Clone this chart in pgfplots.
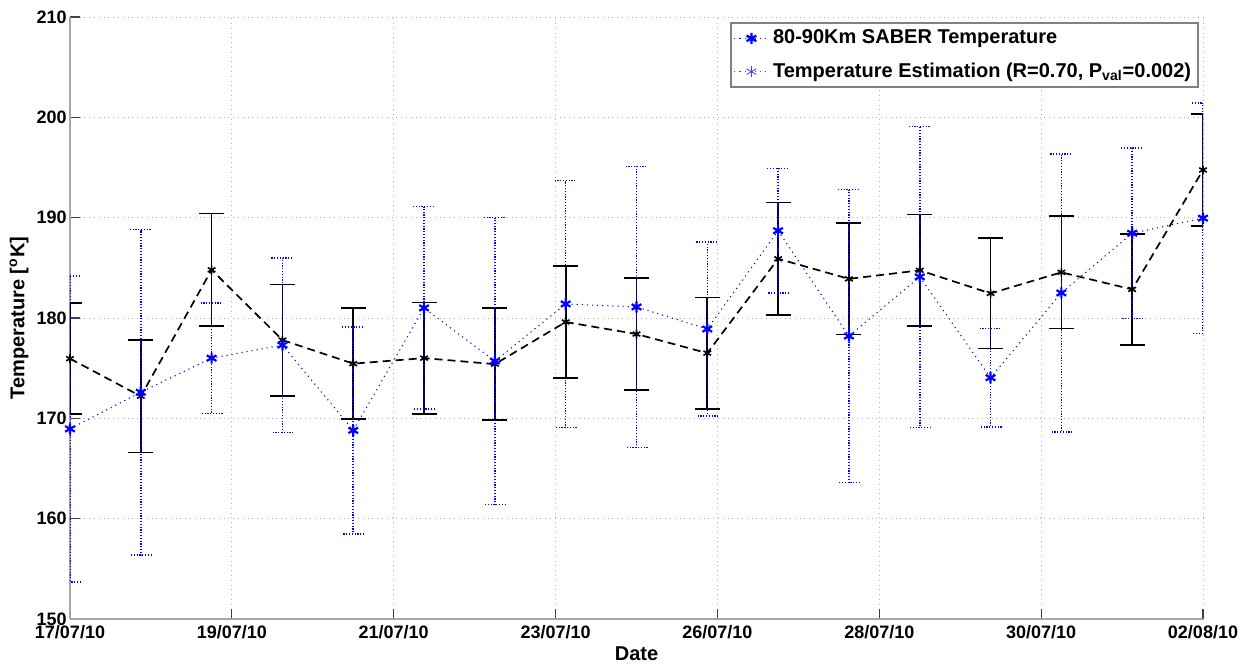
\documentclass[border=0pt]{standalone}
\usepackage{fontspec}
\setmainfont{Liberation Sans}
\usepackage{pgfplots}
\pgfplotsset{compat=1.18}
\usepackage{pgfplotstable}

% black dashed series (value, symmetric error)
\pgfplotstableread{
x y e
0 175.95 5.55
1 172.2 5.6
2 184.8 5.6
3 177.8 5.55
4 175.45 5.55
5 176.0 5.55
6 175.4 5.6
7 179.6 5.55
8 178.4 5.6
9 176.5 5.55
10 185.9 5.6
11 183.9 5.55
12 184.75 5.55
13 182.45 5.5
14 184.55 5.6
15 182.85 5.55
16 194.75 5.55
}\blk

% blue dotted series (value, symmetric error)
\pgfplotstableread{
x y e
0 168.95 15.25
1 172.6 16.2
2 176.0 5.5
3 177.3 8.7
4 168.8 10.3
5 181.0 10.1
6 175.7 14.3
7 181.4 12.3
8 181.1 14.0
9 178.9 8.65
10 188.7 6.2
11 178.2 14.6
12 184.1 15.0
13 174.05 4.9
14 182.5 13.85
15 188.45 8.5
16 189.95 11.5
}\blu

\begin{document}
\begin{tikzpicture}
\begin{axis}[
  name=ax,
  scale only axis, width=566.5pt, height=301pt,
  xmin=0, xmax=16, ymin=150, ymax=210,
  axis x line=bottom, axis y line=left,
  axis line style={-, gray!70, line width=0.9pt},
  xtick={0,2.285714,4.571429,6.857143,9.142857,11.428571,13.714286,16},
  xticklabels={17/07/10,19/07/10,21/07/10,23/07/10,26/07/10,28/07/10,30/07/10,02/08/10},
  ytick={150,160,170,180,190,200,210},
  tick align=inside, major tick length=5pt,
  tick style={gray!50!black, line width=0.6pt},
  grid=major, major grid style={gray!60, dotted, line width=0.4pt},
  /pgf/number format/assume math mode=true,
  tick label style={font=\bfseries\fontsize{9}{10}\selectfont},
  xticklabel style={anchor=base, yshift=-10pt},
  yticklabel style={anchor=east, inner sep=0pt, xshift=-1.5pt},
  xlabel={Date}, ylabel={Temperature [\textsuperscript{o}K]},
  label style={font=\bfseries\fontsize{10}{12}\selectfont},
  xlabel style={at={(axis description cs:0.5,-0.058)}, anchor=center},
  ylabel style={at={(axis description cs:-0.045,0.5)}, anchor=center},
  legend style={at={(axis description cs:1,1)}, anchor=north east, xshift=-2pt, yshift=-2.5pt,
    draw=gray, line width=0.9pt, fill=white, font=\bfseries\fontsize{10}{12}\selectfont,
    inner sep=1.5pt, row sep=4pt},
  legend cell align=left,
]
\addplot[black, line width=0.85pt, dash pattern=on 4pt off 2.5pt, mark=asterisk, mark size=2.2pt,
  mark options={solid, line width=0.8pt}, forget plot,
  error bars/.cd, y dir=both, y explicit,
  error bar style={solid, black, line width=0.85pt},
  error mark options={rotate=90, mark size=6.25pt, solid, black, line width=0.85pt}]
  table[x=x, y=y, y error=e]{\blk};
\addplot[blue, line width=0.55pt, dotted, mark=asterisk, mark size=2.8pt,
  mark options={solid, line width=1.1pt}, forget plot,
  error bars/.cd, y dir=both, y explicit,
  error bar style={blue, line width=0.8pt, dash pattern=on 0.6pt off 0.8pt},
  error mark options={rotate=90, mark size=5.5pt, blue, line width=0.8pt, dash pattern=on 0.6pt off 0.8pt}]
  table[x=x, y=y, y error=e]{\blu};
\addlegendimage{blue, dotted, line width=0.55pt, mark=asterisk, mark size=2.8pt, mark options={solid, line width=1.2pt}}
\addlegendentry{80-90Km SABER Temperature}
\addlegendimage{blue!75, dotted, line width=0.55pt, mark=asterisk, mark size=2.8pt, mark options={solid, line width=0.4pt}}
\addlegendentry{Temperature Estimation (R=0.70, P\textsubscript{val}=0.002)}
\end{axis}
\pgfresetboundingbox
\path ([shift={(-35pt,-24.5pt)}]ax.south west) rectangle ([shift={(25.5pt,8.5pt)}]ax.north east);
\end{tikzpicture}
\end{document}
